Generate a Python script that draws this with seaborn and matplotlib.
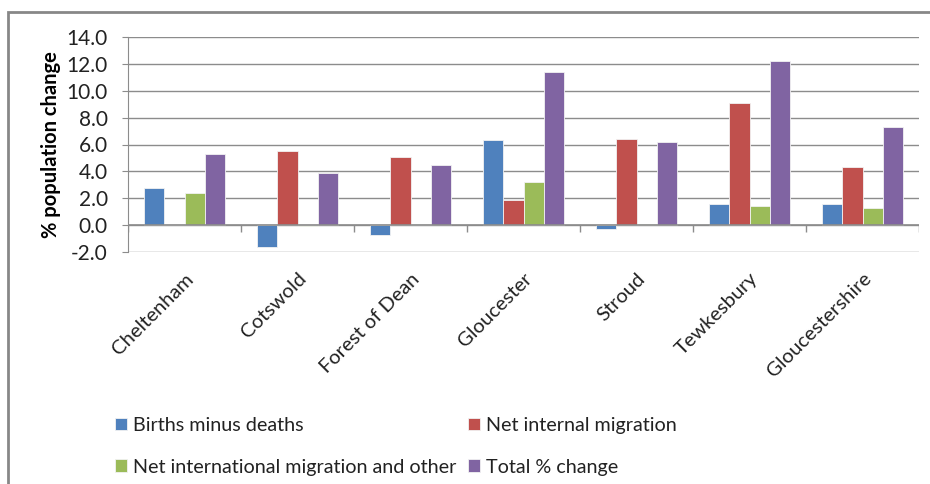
import numpy as np
import pandas as pd
import matplotlib
matplotlib.use('Agg')
import matplotlib.pyplot as plt
import seaborn as sb
from matplotlib.patches import Rectangle

areas = ['Cheltenham', 'Cotswold', 'Forest of Dean', 'Gloucester',
         'Stroud', 'Tewkesbury', 'Gloucestershire']
births_minus_deaths = [2.8, -1.6, -0.7, 6.3, -0.3, 1.6, 1.6]
net_internal = [0.0, 5.5, 5.1, 1.9, 6.4, 9.1, 4.3]
net_international = [2.4, -0.1, 0.0, 3.2, 0.1, 1.4, 1.3]
total_change = [5.3, 3.9, 4.5, 11.4, 6.2, 12.2, 7.3]

series = ['Births minus deaths', 'Net internal migration',
          'Net international migration and other', 'Total % change']
colours = ['#4F81BD', '#C0504D', '#9BBB59', '#8064A2']

df = pd.DataFrame({'area': areas,
                   series[0]: births_minus_deaths,
                   series[1]: net_internal,
                   series[2]: net_international,
                   series[3]: total_change})
long = df.melt(id_vars='area', var_name='series', value_name='change')

sb.set_style('white')
plt.rcParams['font.family'] = ['Lato', 'DejaVu Sans']

fig = plt.figure(figsize=(9.3, 4.84), dpi=100)
ax = fig.add_axes([128/930, 1 - 252/484, (919 - 128)/930, (252 - 37)/484])

sb.barplot(data=long, x='area', y='change', hue='series', order=areas,
           hue_order=series, palette=colours, width=0.71, saturation=1,
           edgecolor='#f2f2f2', linewidth=0.6, ax=ax, legend=True)

grid_c = '#8c8c8c'
ax.set_ylim(-2, 14)
ax.set_yticks(np.arange(-2, 15, 2))
ax.set_yticklabels([f'{v:.1f}' for v in np.arange(-2, 15, 2)], fontsize=15,
                   color='#222222')
ax.yaxis.grid(True, color=grid_c, linewidth=1)
ax.set_axisbelow(True)
ax.set_xlim(-0.5, len(areas) - 0.5)
ax.axhline(0, color=grid_c, linewidth=1.2, zorder=1)

# category boundary ticks hanging from the zero line
bounds = np.arange(len(areas) + 1) - 0.5
ax.vlines(bounds, -0.5, 0, color=grid_c, linewidth=1, zorder=1)

for s in ['top', 'right', 'bottom']:
    ax.spines[s].set_visible(False)
ax.spines['left'].set_color(grid_c)
ax.tick_params(axis='y', length=4.5, color=grid_c, pad=10, left=True)
ax.tick_params(axis='x', length=0, pad=13)
ax.set_xticks(range(len(areas)))
ax.set_xticklabels(areas, rotation=45, ha='right', rotation_mode='anchor',
                   fontsize=14.5, color='#222222')
ax.set_xlabel('')
ax.set_ylabel('% population change', fontsize=14.5, fontweight='bold',
              color='black', labelpad=4)

handles, labels = ax.get_legend_handles_labels()
ax.get_legend().remove()
order = [0, 2, 1, 3]
fig.legend([handles[i] for i in order], [labels[i] for i in order],
           ncol=2, loc='upper left', bbox_to_anchor=(105/930, 1 - 407/484),
           frameon=False, fontsize=14.2, borderpad=0, handlelength=0.62,
           handleheight=0.62, handletextpad=0.3, columnspacing=0.6,
           labelspacing=1.25, labelcolor='#222222')

fig.patches.append(Rectangle((8/930, -0.1), 1.2, 1 - 12/484 + 0.1,
                             transform=fig.transFigure, fill=False,
                             edgecolor='#878787', linewidth=2))

fig.savefig('out.png', dpi=100)
